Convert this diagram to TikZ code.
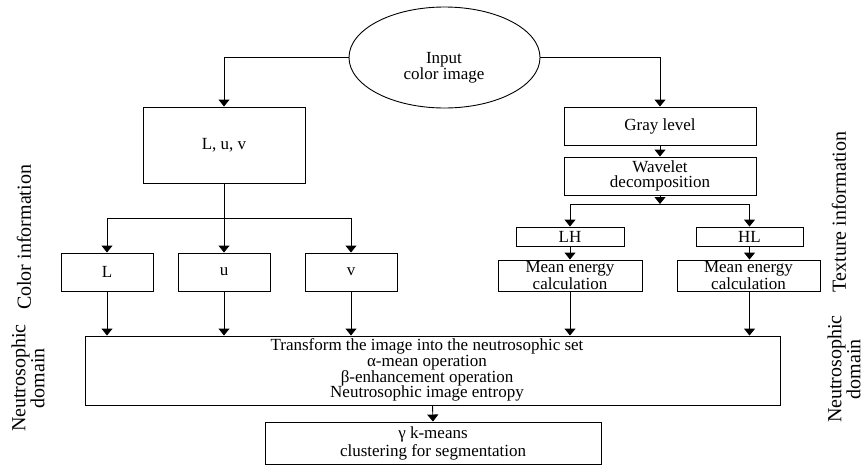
\documentclass[tikz,border=0pt]{standalone}
\usepackage{fontspec}
\setmainfont{Liberation Serif}
\usetikzlibrary{shapes.geometric,arrows.meta}
\begin{document}
\begin{tikzpicture}[x=1pt,y=-1pt,
  lw/.style={line width=0.9pt},
  arr/.style={lw,-{Triangle[width=11pt,length=7pt]}},
  boxnode/.style={draw,lw,rectangle,inner sep=0pt,align=center,
    font=\fontsize{17}{15.7}\selectfont},
  sidelbl/.style={rotate=90,align=center,inner sep=0pt,
    font=\fontsize{20}{19}\selectfont}]
\useasboundingbox (0,0) rectangle (867,466);
% ellipse
\node[draw,lw,ellipse,minimum width=191pt,minimum height=101pt,inner sep=0pt] (input) at (444.5,57.5) {};
\node[align=center,inner sep=0pt,font=\fontsize{17}{16}\selectfont] (inputlbl) at (444,68) {Input\\color image};
% left branch
\node[boxnode,minimum width=162pt,minimum height=76pt] (luv) at (224,145) {L, u, v};
\node[boxnode,minimum width=92pt,minimum height=38pt] (L) at (107,272) {L};
\node[boxnode,minimum width=92pt,minimum height=38pt] (u) at (224,272) {u};
\node[boxnode,minimum width=92pt,minimum height=38pt] (v) at (351,272) {v};
% right branch
\node[boxnode,minimum width=192pt,minimum height=38pt] (gray) at (660,126) {Gray level};
\node[boxnode,minimum width=192pt,minimum height=38pt] (wav) at (660,176) {Wavelet\\decomposition};
\node[boxnode,minimum width=108pt,minimum height=19pt] (LH) at (570,236.5) {LH};
\node[boxnode,minimum width=107pt,minimum height=19pt] (HL) at (749.5,236.5) {HL};
\node[boxnode,minimum width=144pt,minimum height=31pt,font=\fontsize{17}{14}\selectfont] (meanL) at (570,275.5) {Mean energy\\calculation};
\node[boxnode,minimum width=143pt,minimum height=31pt,font=\fontsize{17}{14}\selectfont] (meanR) at (748.5,275.5) {Mean energy\\calculation};
% bottom
\node[draw,lw,rectangle,minimum width=695pt,minimum height=69pt,inner sep=0pt] (big) at (432.5,370.5) {};
\node[align=center,inner sep=0pt,font=\fontsize{17}{15.7}\selectfont] (bigtxt) at (427,370) {Transform the image into the neutrosophic set\\α-mean operation\\β-enhancement operation\\Neutrosophic image entropy};
\node[boxnode,minimum width=336pt,minimum height=42pt,font=\fontsize{17}{18}\selectfont] (gam) at (433,443) {γ k-means\\clustering for segmentation};
% side labels
\node[sidelbl] (colinfo) at (24,237.5) {Color information};
\node[sidelbl] (neuL) at (28,378) {Neutrosophic\\domain};
\node[sidelbl] (texinfo) at (839,212) {Texture information};
\node[sidelbl] (neuR) at (844,369) {Neutrosophic\\domain};
% connectors
\draw[arr] (input.west) -| (luv.north);
\draw[arr] (input.east) -| (gray.north);
\coordinate (jl) at (107,218);
\coordinate (jr) at (351,218);
\draw[arr] (luv.south) -- (u.north);
\draw[lw] (jl) -- (jr);
\draw[arr] (jl) -- (L.north);
\draw[arr] (jr) -- (v.north);
\draw[arr] (gray.south) -- (wav.north);
\coordinate (jw) at (660,204);
\coordinate (jwl) at (570,204);
\coordinate (jwr) at (749.5,204);
\draw[arr] (wav.south) -- (jw);
\draw[lw] (jwl) -- (jwr);
\draw[arr] (jwl) -- (LH.north);
\draw[arr] (jwr) -- (HL.north);
\draw[arr] (LH.south) -- (meanL.north);
\draw[arr] (HL.south) -- (meanR.north -| HL.south);
\draw[arr] (L.south) -- (L.south |- big.north);
\draw[arr] (u.south) -- (u.south |- big.north);
\draw[arr] (v.south) -- (v.south |- big.north);
\draw[arr] (meanL.south) -- (meanL.south |- big.north);
\draw[arr] (meanR.south -| HL.south) -- (HL.south |- big.north);
\draw[arr] (big.south) -- (gam.north);
\end{tikzpicture}
\end{document}
